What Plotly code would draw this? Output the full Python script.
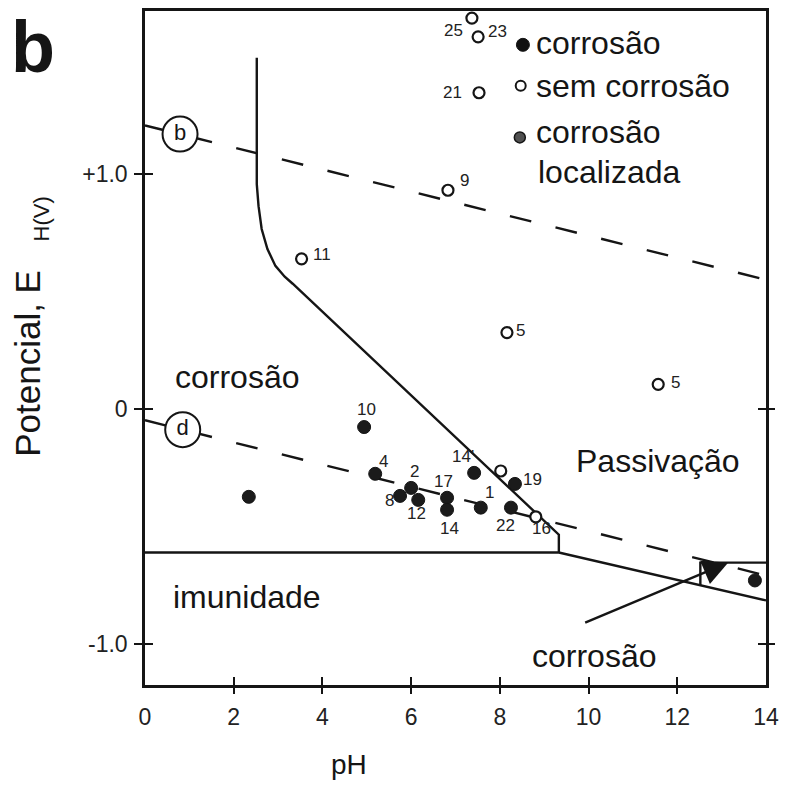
import plotly.graph_objects as go

# ---------------- data ----------------
# corrosion (filled) points
filled_pH = [2.34, 4.94, 5.19, 6.00, 5.75, 6.16, 6.81, 6.81, 7.42, 8.34, 7.57, 8.25, 13.75]
filled_E = [-0.373, -0.076, -0.275, -0.335, -0.369, -0.386, -0.377, -0.428, -0.271, -0.318, -0.419, -0.419, -0.729]
filled_lbl = ["", "10", "4", "2", "8", "12", "17", "14", "14'", "19", "1", "22", ""]

# no-corrosion (open) points
open_pH = [7.37, 7.51, 7.53, 6.83, 3.53, 8.16, 11.57, 8.02, 8.81]
open_E = [1.665, 1.585, 1.347, 0.932, 0.640, 0.326, 0.106, -0.263, -0.458]
open_lbl = ["25", "23", "21", "9", "11", "5", "5", "", "16"]

# Pourbaix boundaries (solid)
pass_pH = [2.52, 2.52, 2.56, 2.63, 2.76, 2.94, 3.15, 3.33, 9.33, 9.33]
pass_E = [1.496, 0.958, 0.864, 0.767, 0.682, 0.610, 0.564, 0.534, -0.534, -0.610]
imm_pH = [0, 9.33, 14.0]
imm_E = [-0.610, -0.610, -0.814]
hfe_pH = [12.52, 12.52, 14.0]
hfe_E = [-0.749, -0.653, -0.653]

# water stability lines (dashed)
b_pH = [0, 14]
b_E = [1.208, 0.551]
d_pH = [0, 14]
d_E = [-0.047, -0.708]
circ_pH = [0.79, 0.85]
circ_E = [1.171, -0.087]
circ_lbl = ["b", "d"]

x_ticks = [0, 2, 4, 6, 8, 10, 12, 14]
y_ticks = [-1, 0, 1]
y_ticktext = ["-1.0", "0", "+1.0"]

# ---------------- styling / placement ----------------
FONT = "Liberation Sans, Arial, sans-serif"
INK = "#151515"
W, H = 787, 785
L, R, T, B = 145, 19, 8, 100
XR = [0, 14]
YR = [-1.174, 1.695]


def px_x(p):
    return (p - L) / (W - L - R)


def px_y(p):
    return (H - B - p) / (H - T - B)


# label offsets in pixels (dx right, dy down) for the point numbers
filled_off = [(0, 0), (2, -18), (8, -12), (3, -16), (-11, 5), (-2, 14), (-4, -16), (2, 19), (-11, -16), (18, -4), (9, -15), (-5, 18), (0, 0)]
open_off = [(-18, 12), (19, -5), (-27, 0), (17, -10), (20, -4), (14, -2), (17, -2), (0, 0), (6, 12)]

fig = go.Figure()

line_style = dict(color=INK, width=2.4)
fig.add_trace(go.Scatter(x=pass_pH, y=pass_E, mode="lines", line=line_style, hoverinfo="skip", showlegend=False))
fig.add_trace(go.Scatter(x=imm_pH, y=imm_E, mode="lines", line=line_style, hoverinfo="skip", showlegend=False))
fig.add_trace(go.Scatter(x=hfe_pH, y=hfe_E, mode="lines", line=line_style, hoverinfo="skip", showlegend=False))

dash_style = dict(color=INK, width=2.4, dash="22px,25px")
fig.add_trace(go.Scatter(x=b_pH, y=b_E, mode="lines", line=dash_style, hoverinfo="skip", showlegend=False))
fig.add_trace(go.Scatter(x=d_pH, y=d_E, mode="lines", line=dash_style, hoverinfo="skip", showlegend=False))

fig.add_trace(go.Scatter(
    x=circ_pH, y=circ_E, mode="markers+text", text=circ_lbl, textposition="middle center",
    textfont=dict(family=FONT, size=22, color=INK),
    marker=dict(symbol="circle", size=35, color="white", line=dict(color=INK, width=2)),
    hoverinfo="skip", showlegend=False, cliponaxis=False))

fig.add_trace(go.Scatter(
    x=filled_pH, y=filled_E, mode="markers",
    marker=dict(symbol="circle", size=13, color="#1b1b1b", line=dict(color=INK, width=1)),
    showlegend=False, cliponaxis=False))
fig.add_trace(go.Scatter(
    x=open_pH, y=open_E, mode="markers",
    marker=dict(symbol="circle", size=11, color="white", line=dict(color=INK, width=2.2)),
    showlegend=False, cliponaxis=False))

# legend key glyphs (the key is drawn inside the plot, as in the figure)
leg_pH = [8.52, 8.47, 8.45]
leg_E = [1.551, 1.377, 1.157]
leg_fill = ["#111111", "white", "#505050"]
leg_size = [13, 10, 11]
leg_lw = [1, 2, 1.5]
for i in range(3):
    fig.add_trace(go.Scatter(
        x=[leg_pH[i]], y=[leg_E[i]], mode="markers",
        marker=dict(symbol="circle", size=leg_size[i], color=leg_fill[i], line=dict(color=INK, width=leg_lw[i])),
        showlegend=False, hoverinfo="skip", cliponaxis=False))

# empty traces so the overlay tick axes are drawn
for xa, ya in [("x2", "y2"), ("x3", "y3"), ("x", "y4")]:
    fig.add_trace(go.Scatter(x=[None], y=[None], xaxis=xa, yaxis=ya, showlegend=False, hoverinfo="skip"))

ann = []
for px, e, t, (dx, dy) in zip(filled_pH + open_pH, filled_E + open_E, filled_lbl + open_lbl, filled_off + open_off):
    if t:
        ann.append(dict(x=px, y=e, text=t, showarrow=False, xshift=dx, yshift=-dy,
                        font=dict(family=FONT, size=17, color="#222")))

big = dict(family=FONT, size=32, color=INK)
ctr = dict(xanchor="center", yanchor="middle", showarrow=False)
ann += [
    dict(x=2.09, y=0.136, text="corrosão", font=big, **ctr),
    dict(x=11.57, y=-0.220, text="Passivação", font=big, **ctr),
    dict(x=2.31, y=-0.80, text="imunidade", font=big, **ctr),
    dict(x=10.13, y=-1.051, text="corrosão", font=big, **ctr),
    dict(x=8.76, y=1.559, text="corrosão", showarrow=False, xanchor="left", yanchor="middle", font=big),
    dict(x=8.76, y=1.377, text="sem corrosão", showarrow=False, xanchor="left", yanchor="middle", font=big),
    dict(x=8.76, y=1.178, text="corrosão", showarrow=False, xanchor="left", yanchor="middle", font=big),
    dict(x=8.81, y=1.008, text="localizada", showarrow=False, xanchor="left", yanchor="middle", font=big),
    # arrow pointing to the small corrosion field
    dict(x=13.15, y=-0.653, ax=9.89, ay=-0.911, axref="x", ayref="y", text="",
         showarrow=True, arrowhead=2, arrowsize=2.1, arrowwidth=2.4, arrowcolor=INK, standoff=0),
    # axis titles and panel letter
    dict(xref="paper", yref="paper", x=px_x(27), y=px_y(362), text="Potencial, E", textangle=-90,
         font=dict(family=FONT, size=35, color=INK), **ctr),
    dict(xref="paper", yref="paper", x=px_x(41), y=px_y(217), text="H(V)", textangle=-90,
         font=dict(family=FONT, size=22, color=INK), **ctr),
    dict(xref="paper", yref="paper", x=px_x(350), y=px_y(765), text="pH",
         font=dict(family=FONT, size=28, color=INK), **ctr),
    dict(xref="paper", yref="paper", x=px_x(33), y=px_y(44), text="<b>b</b>",
         font=dict(family=FONT, size=72, color=INK), **ctr),
]

tickfont = dict(family=FONT, size=23, color="#222")
tick_common = dict(tickwidth=2, tickcolor=INK, ticklen=8, showgrid=False, zeroline=False)

fig.update_layout(
    width=W, height=H, autosize=False,
    margin=dict(l=L, r=R, t=T, b=B, pad=0),
    paper_bgcolor="white", plot_bgcolor="white",
    annotations=ann,
    xaxis=dict(range=XR, tickmode="array", tickvals=x_ticks, ticks="", showline=True, linewidth=2.5,
               linecolor=INK, mirror=True, showgrid=False, zeroline=False, tickfont=tickfont,
               ticklabelstandoff=10),
    xaxis2=dict(range=XR, overlaying="x", anchor="y", tickmode="array", tickvals=x_ticks[1:-1],
                ticks="outside", showticklabels=False, showline=False, **tick_common),
    xaxis3=dict(range=XR, overlaying="x", anchor="y", tickmode="array", tickvals=x_ticks[1:-1],
                ticks="inside", showticklabels=False, showline=False, **tick_common),
    yaxis=dict(range=YR, tickmode="array", tickvals=y_ticks, ticktext=y_ticktext, ticks="outside",
               showline=True, linewidth=2.5, linecolor=INK, mirror=True, tickfont=tickfont,
               ticklabelstandoff=2, **tick_common),
    yaxis2=dict(range=YR, overlaying="y", anchor="x", side="left", tickmode="array", tickvals=y_ticks,
                ticks="inside", showticklabels=False, showline=False, **tick_common),
    yaxis3=dict(range=YR, overlaying="y", anchor="x", side="right", tickmode="array", tickvals=y_ticks[:2],
                ticks="outside", showticklabels=False, showline=False, **tick_common),
    yaxis4=dict(range=YR, overlaying="y", anchor="x", side="right", tickmode="array", tickvals=y_ticks[:2],
                ticks="inside", showticklabels=False, showline=False, **tick_common),
)

fig.write_html("out.html")
